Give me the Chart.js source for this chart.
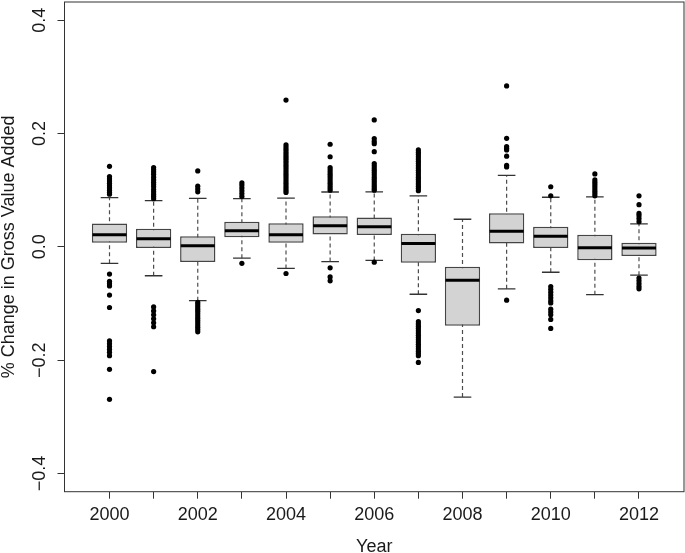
<!DOCTYPE html>
<html>
<head>
<meta charset="utf-8">
<script src="https://cdn.jsdelivr.net/npm/chart.js@4.4.1/dist/chart.umd.min.js"></script>
<style>
  body { margin: 0; background: #fff; }
  #wrap { width: 685px; height: 553px; }
</style>
</head>
<body>
<div id="wrap"><canvas id="gvaChart" width="685" height="553"></canvas></div>
<script>
const years = [2000, 2001, 2002, 2003, 2004, 2005, 2006, 2007, 2008, 2009, 2010, 2011, 2012];
const yTicks = [-0.4, -0.2, 0.0, 0.2, 0.4];

// box statistics
const whiskerLow  = [-0.029, -0.051, -0.095, -0.020, -0.038, -0.026, -0.024, -0.0836, -0.265, -0.074, -0.0448, -0.0843, -0.050];
const lowerQ      = [0.0074, -0.002, -0.0266, 0.017, 0.0074, 0.022, 0.021, -0.028, -0.139, 0.006, -0.002, -0.0236, -0.016];
const medians     = [0.0215, 0.0145, 0.002, 0.0286, 0.0215, 0.0374, 0.0356, 0.006, -0.059, 0.0275, 0.0187, -0.0014, -0.002];
const upperQ      = [0.041, 0.032, 0.0187, 0.0445, 0.0416, 0.054, 0.052, 0.0233, -0.035, 0.0595, 0.0356, 0.0215, 0.0074];
const whiskerHigh = [0.0868, 0.0815, 0.0857, 0.085, 0.086, 0.0968, 0.097, 0.0898, 0.0487, 0.126, 0.0875, 0.088, 0.0404];

const outliers = [
  [0.142, 0.124, 0.12, 0.116, 0.112, 0.108, 0.104, 0.1, 0.096, 0.093,
   -0.048, -0.061, -0.065, -0.069, -0.085, -0.107, -0.166, -0.171, -0.176, -0.181, -0.186, -0.192, -0.216, -0.269],
  [0.140, 0.136, 0.132, 0.128, 0.123, 0.118, 0.114, 0.110, 0.106, 0.101, 0.097, 0.093, 0.089, 0.085,
   -0.106, -0.113, -0.120, -0.127, -0.134, -0.141, -0.220],
  [0.134, 0.107, 0.102, 0.097,
   -0.098, -0.102, -0.106, -0.110, -0.114, -0.118, -0.122, -0.126, -0.130, -0.134, -0.138, -0.142, -0.146, -0.150],
  [0.113, 0.109, 0.104, 0.099, 0.094, 0.089, -0.029],
  [0.259, 0.180, 0.176, 0.172, 0.168, 0.164, 0.160, 0.156, 0.152, 0.148, 0.144, 0.140, 0.136, 0.132,
   0.128, 0.124, 0.120, 0.116, 0.112, 0.108, 0.104, 0.100, 0.096, -0.047],
  [0.181, 0.159, 0.140, 0.136, 0.132, 0.128, 0.124, 0.120, 0.116, 0.112, 0.108, 0.104, 0.100,
   -0.037, -0.053, -0.060],
  [0.224, 0.191, 0.186, 0.182, 0.168, 0.147, 0.143, 0.139, 0.135, 0.131, 0.127, 0.123, 0.119,
   0.115, 0.111, 0.107, 0.103, 0.100, -0.027],
  [0.171, 0.167, 0.163, 0.159, 0.155, 0.151, 0.147, 0.143, 0.139, 0.135, 0.131, 0.127, 0.123,
   0.119, 0.115, 0.111, 0.107, 0.103, 0.099,
   -0.1125, -0.132, -0.136, -0.140, -0.144, -0.148, -0.152, -0.156, -0.160, -0.164, -0.168,
   -0.172, -0.176, -0.180, -0.184, -0.188, -0.192, -0.204],
  [],
  [0.284, 0.1915, 0.177, 0.174, 0.171, 0.160, 0.144, 0.141, -0.094],
  [0.106, 0.090, -0.070, -0.075, -0.080, -0.085, -0.090, -0.095, -0.099, -0.110, -0.115, -0.120, -0.128, -0.144],
  [0.1286, 0.118, 0.114, 0.110, 0.106, 0.102, 0.098, 0.094, 0.090],
  [0.090, 0.0744, 0.059, 0.055, 0.050, 0.0445, -0.055, -0.060, -0.065, -0.070, -0.074]
];

const boxData = years.map((yr, i) => ({ x: yr, y: [lowerQ[i], upperQ[i]] }));
const medianData = years.map((yr, i) => ({ x: yr, y: medians[i] }));
const capData = [];
const whiskerData = [];
years.forEach((yr, i) => {
    capData.push({ x: yr, y: whiskerLow[i] }, { x: yr, y: whiskerHigh[i] });
    whiskerData.push({ x: yr, y: whiskerLow[i] }, { x: yr, y: whiskerHigh[i] }, { x: yr, y: null });
});
const outlierData = [];
years.forEach((yr, i) => outliers[i].forEach(v => outlierData.push({ x: yr, y: v })));

const frame = {
    id: "frame",
    afterDraw(chart) {
        const a = chart.chartArea;
        const ctx = chart.ctx;
        ctx.save();
        ctx.strokeStyle = "#333";
        ctx.lineWidth = 1;
        ctx.strokeRect(a.left, a.top, a.right - a.left, a.bottom - a.top);
        ctx.restore();
    }
};

const ink = "#1a1a1a";
const font = { family: "'Liberation Sans', Arial, Helvetica, sans-serif", size: 18 };

new Chart(document.getElementById("gvaChart"), {
    data: {
        datasets: [
            {
                type: "line",
                data: whiskerData,
                borderColor: "#4d4d4d",
                borderWidth: 1.2,
                borderDash: [4, 3],
                pointRadius: 0,
                spanGaps: false,
                order: 5
            },
            {
                type: "scatter",
                data: capData,
                pointStyle: "line",
                pointRadius: 8.8,
                borderColor: "#333",
                borderWidth: 1.3,
                order: 4
            },
            {
                type: "bar",
                data: boxData,
                backgroundColor: "#d3d3d3",
                borderColor: "#454545",
                borderWidth: 1.5,
                borderSkipped: false,
                categoryPercentage: 1,
                barPercentage: 0.8,
                order: 3
            },
            {
                type: "scatter",
                data: medianData,
                pointStyle: "line",
                pointRadius: 17,
                borderColor: "#000",
                borderWidth: 3,
                order: 2
            },
            {
                type: "scatter",
                data: outlierData,
                pointRadius: 2.6,
                backgroundColor: "#000",
                borderColor: "#000",
                borderWidth: 0,
                order: 1
            }
        ]
    },
    options: {
        responsive: false,
        animation: false,
        layout: { autoPadding: false, padding: { top: 2, right: 1, left: 0, bottom: 0 } },
        plugins: { legend: { display: false }, tooltip: { enabled: false } },
        scales: {
            x: {
                type: "linear",
                min: 1998.98,
                max: 2013.02,
                offset: false,
                afterFit(scale) {
                    scale.height = 61.3;
                    scale.paddingLeft = 0;
                    scale.paddingRight = 0;
                },
                afterBuildTicks(scale) { scale.ticks = years.map(v => ({ value: v })); },
                grid: { offset: false, drawOnChartArea: false, drawTicks: true, tickLength: 7, color: "#333" },
                border: { display: false },
                ticks: {
                    autoSkip: false, maxRotation: 0, padding: 6, color: ink, font: font,
                    callback: v => (v % 2 === 0 ? String(v) : "")
                },
                title: {
                    display: true, text: "Year", color: ink,
                    font: { family: font.family, size: 18, lineHeight: 0.66 },
                    padding: { top: 0, bottom: 0 }
                }
            },
            y: {
                type: "linear",
                min: -0.432,
                max: 0.432,
                afterFit(scale) {
                    scale.width = 64.5;
                    scale.paddingTop = 0;
                    scale.paddingBottom = 0;
                },
                afterBuildTicks(scale) { scale.ticks = yTicks.map(v => ({ value: v })); },
                grid: { drawOnChartArea: false, drawTicks: true, tickLength: 7, color: "#333" },
                border: { display: false },
                ticks: {
                    minRotation: 90, maxRotation: 90, crossAlign: "center", padding: 0,
                    color: ink, font: font,
                    callback: v => v.toFixed(1).replace("-", "\u2212")
                },
                title: {
                    display: true, text: "% Change in Gross Value Added", color: ink,
                    font: { family: font.family, size: 18, lineHeight: 1 },
                    padding: { top: 0, bottom: 0 }
                }
            }
        }
    },
    plugins: [frame]
});
</script>
</body>
</html>
